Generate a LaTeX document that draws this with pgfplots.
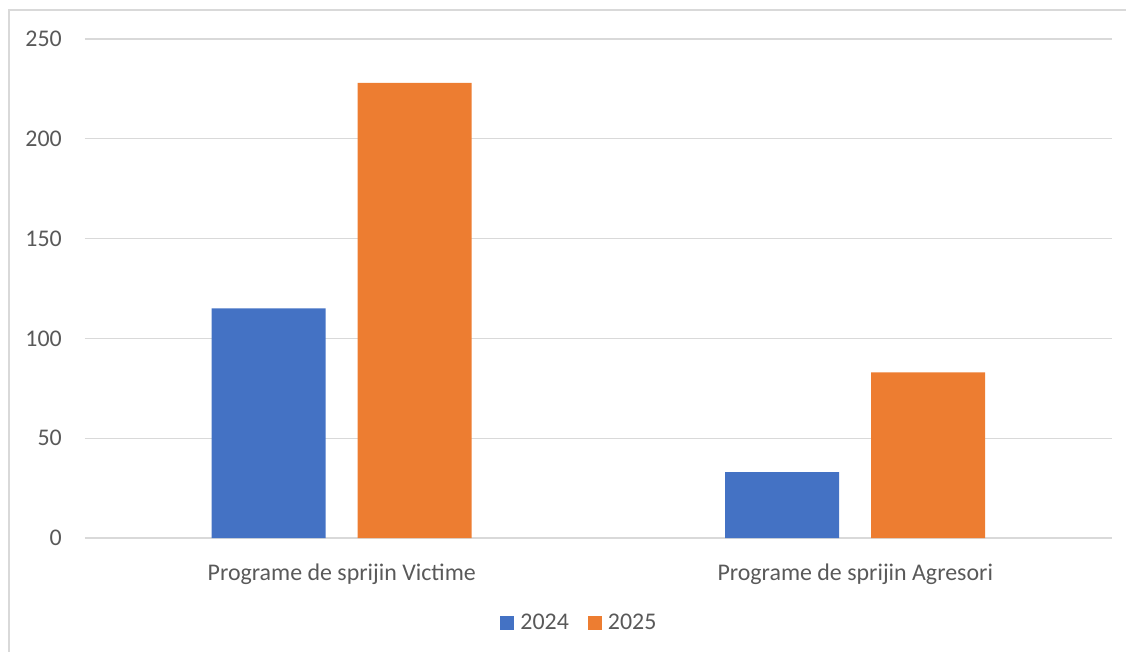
\documentclass[border=0pt]{standalone}
\usepackage{pgfplots}
\pgfplotsset{compat=1.18}
\usepackage{fontspec}
\setmainfont{Carlito}
\definecolor{cblue}{HTML}{4472C4}
\definecolor{corange}{HTML}{ED7D31}
\definecolor{cgrid}{HTML}{D9D9D9}
\definecolor{ctext}{HTML}{595959}
\begin{document}
\begin{tikzpicture}
\begin{axis}[
  scale only axis,
  width=1027bp, height=499bp,
  at={(0,0)}, anchor=south west,
  ybar, bar width=114bp,
  xmin=-0.5, xmax=1.5, ymin=0, ymax=250,
  ytick={0,50,...,250},
  xtick=data,
  xticklabels={Programe de sprijin Victime, Programe de sprijin Agresori},
  axis line style={draw=none},
  major tick style={draw=none},
  ymajorgrids, grid style={cgrid, line width=1.3bp},
  font=\fontsize{24}{28}\selectfont,
  /pgf/number format/assume math mode=true,
  ticklabel style={text=ctext, font=\fontsize{24}{28}\selectfont},
  yticklabel style={anchor=east, inner sep=0pt, xshift=-23bp},
  xticklabel style={anchor=base, inner sep=0pt, yshift=-38.7bp},
  legend style={at={(0.4805,-0.1703)}, anchor=center, draw=none, fill=none,
    legend columns=2, text=ctext, font=\fontsize{24}{28}\selectfont,
    nodes={inner sep=0pt},
    /tikz/every even column/.append style={column sep=19bp},
    inner sep=0pt},
  legend image code/.code={\fill[#1] (0bp,-7bp) rectangle (14bp,7bp); \path (20bp,0bp);},
]
\addplot[draw=none, fill=cblue, bar shift=-73bp] coordinates {(0,115) (1,33)};
\addplot[draw=none, fill=corange, bar shift=73bp] coordinates {(0,228) (1,83)};
\legend{2024,2025}
\end{axis}
\useasboundingbox (-85bp,-114bp) rectangle (1041bp,538bp);
\draw[cgrid, line width=1.5bp] (-76bp,-120bp) -- (-76bp,528bp) -- (1050bp,528bp);
\end{tikzpicture}
\end{document}
